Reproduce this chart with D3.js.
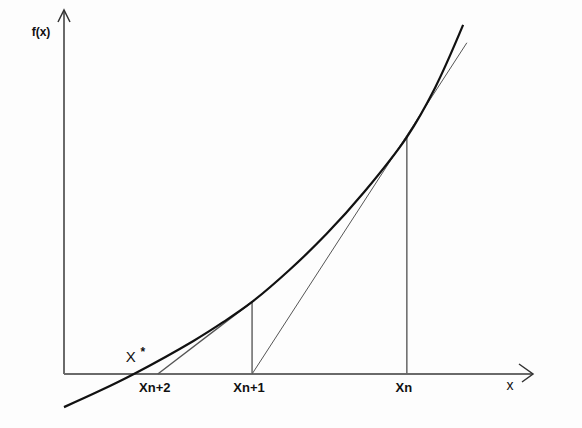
<!DOCTYPE html>
<html>
<head>
<meta charset="utf-8">
<script src="https://cdn.jsdelivr.net/npm/d3@7"></script>
<style>
  body { margin: 0; background: #fff; }
  text { font-family: "Liberation Sans", Arial, sans-serif; fill: #111; }
</style>
</head>
<body>
<script>
// curve f(x), points
var curveX = [0, 0.75, 1.49, 2.75, 3.4, 4.01, 4.8, 5.6, 6.4, 7.31, 7.91, 8.51];
var curveY = [-0.91, -0.47, 0, 0.9, 1.43, 1.98, 2.85, 3.85, 5.0, 6.51, 7.86, 9.59];

// newton iterates
var iterX = [7.31, 4.01, 2.00];
var iterLabels = ["Xn", "Xn+1", "Xn+2"];
var rootX = 1.49;

// tangent lines [x1, y1, x2, y2]
var tangents = [
    [4.01, 0, 8.59, 9.10],
    [2.00, 0, 4.01, 1.98]
];

var width = 582, height = 428;

var x = d3.scaleLinear().domain([0, 10]).range([64, 533]);
var y = d3.scaleLinear().domain([0, 10]).range([374, 10]);

var svg = d3.select("body")
    .append("svg")
    .attr("width", width)
    .attr("height", height)

svg.append("rect")
    .attr("width", width)
    .attr("height", height)
    .attr("fill", "#fdfdfd")

// axes
svg.append("line")
    .attr("x1", x(0)).attr("y1", y(0))
    .attr("x2", x(10)).attr("y2", y(0))
    .attr("stroke", "#6a6a6a")
    .style("stroke-width", 2)

svg.append("line")
    .attr("x1", x(0)).attr("y1", y(0))
    .attr("x2", x(0)).attr("y2", y(10))
    .attr("stroke", "#6a6a6a")
    .style("stroke-width", 2)

// arrow heads
svg.append("path")
    .attr("d", "M" + (x(10) - 14) + "," + (y(0) - 10) + "L" + x(10) + "," + y(0) + "L" + (x(10) - 11) + "," + (y(0) + 8))
    .attr("fill", "none")
    .attr("stroke", "#333")
    .style("stroke-width", 1.5)

svg.append("path")
    .attr("d", "M" + (x(0) - 6) + "," + (y(10) + 12) + "L" + x(0) + "," + y(10) + "L" + (x(0) + 6) + "," + (y(10) + 12))
    .attr("fill", "none")
    .attr("stroke", "#333")
    .style("stroke-width", 1.5)

// verticals at Xn and Xn+1
var curvePts = d3.zip(curveX, curveY);
function f(v) {
    for (var i = 1; i < curvePts.length; i++) {
        if (v <= curvePts[i][0]) {
            var a = curvePts[i - 1], b = curvePts[i];
            return a[1] + (b[1] - a[1]) * (v - a[0]) / (b[0] - a[0]);
        }
    }
    return curvePts[curvePts.length - 1][1];
}

svg.selectAll(".vert")
    .data(iterX.slice(0, 2))
    .enter().append("line")
    .attr("class", "vert")
    .attr("x1", function(d) { return x(d); })
    .attr("x2", function(d) { return x(d); })
    .attr("y1", y(0))
    .attr("y2", function(d) { return y(f(d)); })
    .attr("stroke", "#666")
    .style("stroke-width", 1.5)

// tangents
svg.selectAll(".tangent")
    .data(tangents)
    .enter().append("line")
    .attr("class", "tangent")
    .attr("x1", function(d) { return x(d[0]); })
    .attr("y1", function(d) { return y(d[1]); })
    .attr("x2", function(d) { return x(d[2]); })
    .attr("y2", function(d) { return y(d[3]); })
    .attr("stroke", "#555")
    .style("stroke-width", function(d, i) { return i == 0 ? 1 : 1.4; })

// the curve
var line = d3.line()
    .x(function(d) { return x(d[0]); })
    .y(function(d) { return y(d[1]); })
    .curve(d3.curveCatmullRom);

svg.append("path")
    .datum(curvePts)
    .attr("d", line)
    .attr("fill", "none")
    .attr("stroke", "#111")
    .style("stroke-width", 2.2)

// labels
svg.selectAll(".iterLabel")
    .data(iterX)
    .enter().append("text")
    .attr("class", "iterLabel")
    .attr("x", function(d) { return x(d) - 3; })
    .attr("y", y(0) + 18)
    .text(function(d, i) { return iterLabels[i]; })
    .style("text-anchor", "middle")
    .style("font-size", "13px")
    .style("font-weight", "bold")

svg.append("text")
    .attr("x", x(rootX) - 3)
    .attr("y", y(0) - 12)
    .text("X")
    .style("text-anchor", "middle")
    .style("font-size", "15px")

svg.append("text")
    .attr("x", x(rootX) + 9)
    .attr("y", y(0) - 18)
    .text("*")
    .style("text-anchor", "middle")
    .style("font-size", "12px")
    .style("font-weight", "bold")

svg.append("text")
    .attr("x", x(10) - 23)
    .attr("y", y(0) + 16)
    .text("x")
    .style("text-anchor", "middle")
    .style("font-size", "14px")

svg.append("text")
    .attr("x", 41)
    .attr("y", 36)
    .text("f(x)")
    .style("text-anchor", "middle")
    .style("font-size", "12px")
    .style("font-weight", "bold")
</script>
</body>
</html>
